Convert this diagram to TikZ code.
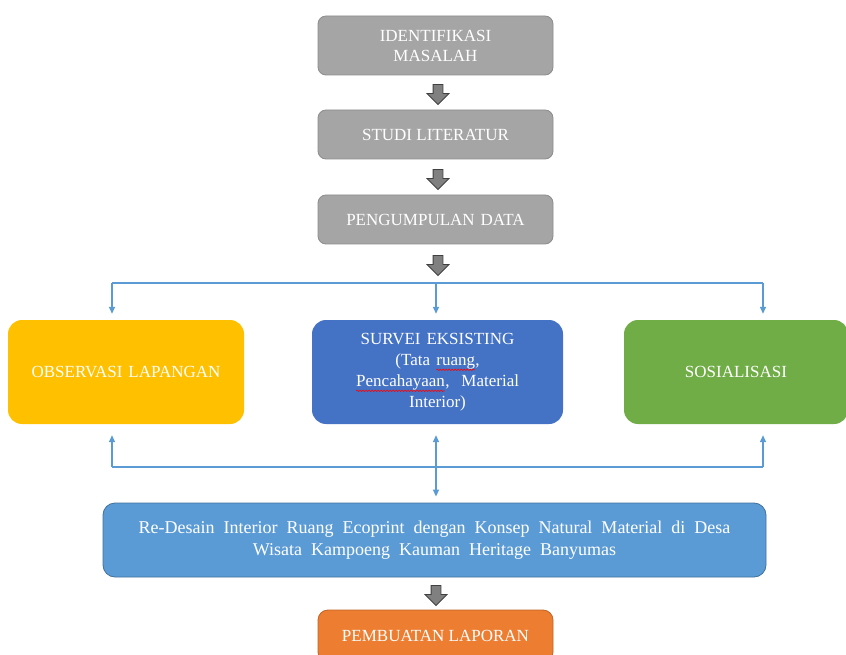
\documentclass[tikz,border=0pt]{standalone}
\usepackage{fontspec}
\setmainfont{Liberation Serif}
\usepackage{tikz}
\usetikzlibrary{arrows.meta,shapes.arrows,calc,decorations.pathmorphing}

\definecolor{boxgray}{HTML}{A5A5A5}
\definecolor{boxgrayline}{HTML}{8C8C8C}
\definecolor{obsyellow}{HTML}{FFC000}
\definecolor{survblue}{HTML}{4472C4}
\definecolor{sosgreen}{HTML}{70AD47}
\definecolor{redblue}{HTML}{5B9BD5}
\definecolor{redline}{HTML}{41719C}
\definecolor{laporange}{HTML}{ED7D31}
\definecolor{linkblue}{HTML}{5B9BD5}

\newcommand\midfont{\fontsize{17}{21}\selectfont\spaceskip=6pt plus 2pt\relax}
\newcommand\widefont{\fontsize{18}{22}\selectfont\spaceskip=9pt plus 2pt\relax}

\newcommand\spellwave[1]{\tikz[baseline=(sw.base)]{\node[inner sep=0pt, outer sep=0pt, minimum width=0pt,
    minimum height=0pt, fill=none, draw=none] (sw) {#1};
  \draw[red, line width=0.6pt, sharp corners, decorate, decoration={snake, amplitude=0.7pt, segment length=3pt}]
    ([yshift=-4.5pt]sw.base west) -- ([yshift=-4.5pt]sw.base east);}}

\begin{document}
\begin{tikzpicture}
    [
      x = 1pt, y = -1pt,
      stepbox/.style = {draw=boxgrayline, fill=boxgray, rounded corners=8pt, line width=0.8pt,
                        text=white, align=center, font=\fontsize{17}{20}\selectfont,
                        minimum width=235pt, inner sep=0pt},
      colorbox/.style = {rounded corners=14pt, text=white, align=center, font=\midfont,
                         minimum height=104pt, inner sep=0pt},
      blockarrow/.style = {single arrow, shape border rotate=270, draw=black!75, fill=black!50,
                           line width=0.8pt, inner sep=4.5pt, minimum height=20pt,
                           single arrow head extend=6pt, single arrow head indent=0pt},
      link/.style = {draw=linkblue, line width=1.4pt},
      tip/.style = {-{Triangle[length=7pt,width=6pt]}},
    ]

    \useasboundingbox (0,0) rectangle (846,655);

    \node[stepbox, minimum height=59pt] (ident) at (435.5,45.5) {IDENTIFIKASI\\MASALAH};
    \node[stepbox, minimum height=49pt] (studi) at (435.5,134.5) {STUDI LITERATUR};
    \node[stepbox, minimum height=49pt] (data) at (435.5,219.5) {PENGUMPULAN\hspace{6pt}DATA};

    \node[blockarrow] (a1) at (438,92) {};
    \node[blockarrow] (a2) at (438,177) {};
    \node[blockarrow] (a3) at (438,263) {};

    \node[colorbox, fill=obsyellow, minimum width=236pt] (obs) at (126,372) {OBSERVASI LAPANGAN};
    \node[colorbox, fill=survblue, minimum width=251pt] (survei) at (437.5,372)
      {SURVEI EKSISTING\\(Tata \spellwave{ruang},\\\spellwave{Pencahayaan}, \ Material\\Interior)};
    \node[colorbox, fill=sosgreen, minimum width=224pt] (sos) at (736,372) {SOSIALISASI};

    \node[draw=redline, fill=redblue, rounded corners=12pt, line width=0.8pt, text=white,
          align=center, font=\widefont, minimum width=663pt, minimum height=74pt,
          inner sep=0pt] (redesain) at (434.5,540)
      {Re-Desain Interior Ruang Ecoprint dengan Konsep Natural Material di Desa\\
       Wisata Kampoeng Kauman Heritage Banyumas};

    \node[blockarrow] (a4) at (436,593) {};
    \node[draw=laporange!80!black, fill=laporange, rounded corners=10pt, line width=0.8pt,
          text=white, font=\fontsize{17}{20}\selectfont, minimum width=235pt,
          minimum height=52pt, inner sep=0pt] (laporan) at (435.5,636) {PEMBUATAN LAPORAN};

    \coordinate (tl) at (112,283);
    \coordinate (tm) at (436,283);
    \coordinate (tr) at (763,283);
    \coordinate (bl) at (112,467);
    \coordinate (bm) at (436,467);
    \coordinate (br) at (763,467);

    \draw[link] (tl) -- (tr);
    \draw[link, tip, shorten >=6pt] (tl) -- (tl |- obs.north);
    \draw[link, tip, shorten >=6pt] (tm) -- (tm |- survei.north);
    \draw[link, tip, shorten >=6pt] (tr) -- (tr |- sos.north);

    \draw[link] (bl) -- (br);
    \draw[link, tip, shorten >=11pt] (bl) -- (bl |- obs.south);
    \draw[link, tip, shorten >=11pt] (br) -- (br |- sos.south);
    \draw[link, {Triangle[length=7pt,width=6pt]}-{Triangle[length=7pt,width=6pt]},
          shorten <=6pt, shorten >=11pt] (bm |- redesain.north) -- (bm |- survei.south);
\end{tikzpicture}
\end{document}
